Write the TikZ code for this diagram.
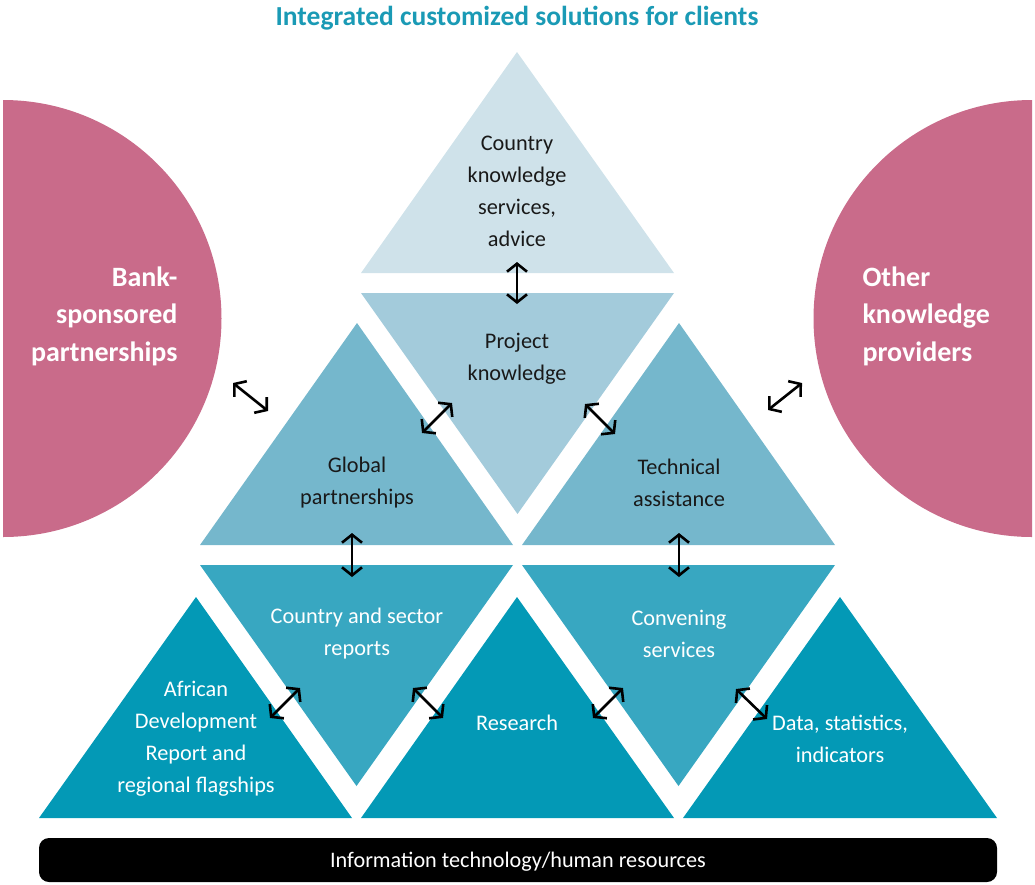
\documentclass[tikz,border=0pt]{standalone}
\usepackage{fontspec}
\setmainfont{Carlito}
\usetikzlibrary{arrows.meta, positioning}

\definecolor{headline}{HTML}{1A9AB5}
\definecolor{tierA}{HTML}{CFE2EA}
\definecolor{tierB}{HTML}{A3CBDB}
\definecolor{tierC}{HTML}{75B7CC}
\definecolor{tierD}{HTML}{38A7C1}
\definecolor{tierE}{HTML}{0399B6}
\definecolor{partner}{HTML}{C96B8A}

\tikzstyle{dark_label} = [align=center, text=black!90, font=\fontsize{22.3}{32}\selectfont]
\tikzstyle{light_label} = [align=center, text=white, font=\fontsize{22.3}{32}\selectfont]
\tikzstyle{partner_label} = [text=white, font=\bfseries\fontsize{28}{37.5}\selectfont]
\tikzstyle{title} = [text=headline, font=\bfseries\fontsize{27.5}{32}\selectfont]
\tikzstyle{base_bar} = [rectangle, rounded corners=10pt, fill=black, text=white, minimum width=958pt, minimum height=44pt, text depth=0pt, font=\fontsize{22.2}{26}\selectfont]
\tikzstyle{exchange} = [line width=2.6pt, black, {Straight Barb[length=8pt,width=20pt]}-{Straight Barb[length=8pt,width=20pt]}]

\begin{document}
\begin{tikzpicture}[x=1pt, y=-1pt]

    \useasboundingbox (0,0) rectangle (1035,884);

    \node (title) [title] at (517,18) {Integrated customized solutions for clients};

    % half discs at the sides
    \fill [partner] (3,100) arc (-90:90:218.5) -- cycle;
    \fill [partner] (1032,100) arc (-90:-270:218.5) -- cycle;

    % top level
    \fill [tierA] (361,273) -- (517,52) -- (674,273) -- cycle;
    \fill [tierB] (361,293) -- (674,293) -- (517.5,514) -- cycle;

    % middle level
    \fill [tierC] (200,545) -- (357,323) -- (513,545) -- cycle;
    \fill [tierC] (522,545) -- (679,323) -- (835,545) -- cycle;
    \fill [tierD] (200,565) -- (513,565) -- (356.5,786) -- cycle;
    \fill [tierD] (522,565) -- (835,565) -- (678.5,786) -- cycle;

    % bottom level
    \fill [tierE] (39,818) -- (196,597) -- (352,818) -- cycle;
    \fill [tierE] (361,818) -- (517,597) -- (674,818) -- cycle;
    \fill [tierE] (683,818) -- (840,597) -- (997,818) -- cycle;

    \node (advice) [dark_label] at (517,191) {Country\\knowledge\\services,\\advice};
    \node (project) [dark_label] at (517,359) {Project\\knowledge};
    \node (global) [dark_label] at (357,483) {Global\\partnerships};
    \node (technical) [dark_label] at (679,483) {Technical\\assistance};
    \node (reports) [light_label] at (357,634) {Country and sector\\reports};
    \node (convening) [light_label] at (679,634) {Convening\\services};
    \node (flagships) [light_label] at (196,739) {African\\Development\\Report and\\regional flagships};
    \node (research) [light_label] at (517,723) {Research};
    \node (data) [light_label] at (840,739) {Data, statistics,\\indicators};

    \node (bank) [partner_label, align=right, anchor=east] at (181,316) {Bank-\\sponsored\\partnerships};
    \node (others) [partner_label, align=left, anchor=west] at (859,316) {Other\\knowledge\\providers};

    \node (itbar) [base_bar] at (518,860) {Information technology/human resources};

    % arrow ends
    \coordinate (advice_s) at (517,262);
    \coordinate (project_n) at (517,304);
    \coordinate (global_ne) at (422,433);
    \coordinate (project_sw) at (452,403);
    \coordinate (project_se) at (585,404);
    \coordinate (technical_nw) at (615,434);
    \coordinate (bank_se) at (233,383);
    \coordinate (global_nw) at (268,411);
    \coordinate (technical_ne) at (768,410);
    \coordinate (others_sw) at (802,383);
    \coordinate (global_s) at (352,533);
    \coordinate (reports_n) at (352,577);
    \coordinate (technical_s) at (679,533);
    \coordinate (convening_n) at (679,577);
    \coordinate (flagships_ne) at (270,718);
    \coordinate (reports_sw) at (300,688);
    \coordinate (reports_se) at (413,688);
    \coordinate (research_nw) at (443,718);
    \coordinate (research_ne) at (593,718);
    \coordinate (convening_sw) at (623,688);
    \coordinate (convening_se) at (736,689);
    \coordinate (data_nw) at (767,719);

    \draw [exchange] (advice_s) -- (project_n);
    \draw [exchange] (global_ne) -- (project_sw);
    \draw [exchange] (project_se) -- (technical_nw);
    \draw [exchange] (bank_se) -- (global_nw);
    \draw [exchange] (technical_ne) -- (others_sw);
    \draw [exchange] (global_s) -- (reports_n);
    \draw [exchange] (technical_s) -- (convening_n);
    \draw [exchange] (flagships_ne) -- (reports_sw);
    \draw [exchange] (reports_se) -- (research_nw);
    \draw [exchange] (research_ne) -- (convening_sw);
    \draw [exchange] (convening_se) -- (data_nw);

\end{tikzpicture}
\end{document}
